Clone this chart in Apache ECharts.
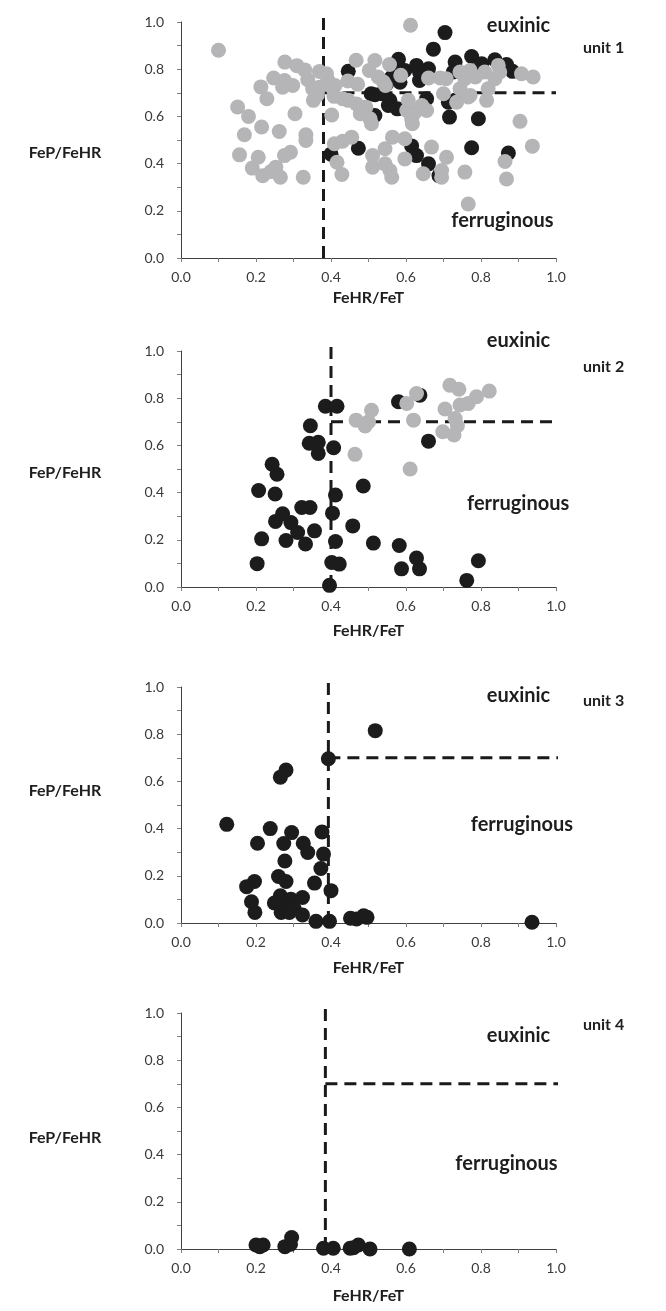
<!DOCTYPE html>
<html><head><meta charset="utf-8">
<script src="https://cdn.jsdelivr.net/npm/echarts@6/dist/echarts.min.js"></script>
<style>html,body{margin:0;padding:0;background:#fff}#c{width:666px;height:1311px}</style>
</head><body><div id="c"></div>
<script>
// ---------- DATA ----------
const unitNames = ['unit 1', 'unit 2', 'unit 3', 'unit 4'];
const xAxisTitle = 'FeHR/FeT';
const yAxisTitle = 'FeP/FeHR';
const zoneLabels = ['euxinic', 'ferruginous'];

const unit1Black = [
  [0.704,0.955],[0.673,0.885],[0.446,0.791],[0.507,0.696],[0.58,0.842],[0.573,0.802],[0.597,0.795],
  [0.562,0.767],[0.548,0.738],[0.584,0.745],[0.517,0.692],[0.535,0.696],[0.557,0.668],[0.553,0.646],
  [0.577,0.632],[0.517,0.604],[0.628,0.816],[0.636,0.788],[0.66,0.802],[0.636,0.752],[0.655,0.675],
  [0.713,0.66],[0.731,0.83],[0.726,0.788],[0.775,0.854],[0.802,0.823],[0.797,0.788],[0.837,0.84],
  [0.868,0.82],[0.884,0.791],[0.716,0.597],[0.793,0.59],[0.775,0.467],[0.873,0.445],[0.615,0.475],
  [0.628,0.434],[0.66,0.399],[0.688,0.349],[0.473,0.465],[0.40,0.44],[0.731,0.668],[0.571,0.788]
];
const unit1Gray = [
  [0.10,0.88],[0.151,0.64],[0.18,0.60],[0.169,0.522],[0.156,0.437],[0.215,0.555],[0.206,0.427],
  [0.19,0.381],[0.218,0.349],[0.24,0.366],[0.253,0.385],[0.265,0.342],[0.276,0.434],[0.292,0.448],
  [0.326,0.342],[0.262,0.536],[0.304,0.611],[0.333,0.522],[0.333,0.498],
  [0.213,0.725],[0.229,0.675],[0.247,0.763],[0.276,0.752],[0.271,0.724],[0.298,0.731],[0.277,0.83],
  [0.309,0.815],[0.33,0.797],[0.338,0.755],[0.351,0.717],[0.353,0.668],[0.364,0.692],[0.369,0.79],
  [0.369,0.724],[0.391,0.755],[0.388,0.781],[0.404,0.721],[0.408,0.685],[0.402,0.606],[0.409,0.484],
  [0.431,0.495],[0.455,0.512],[0.416,0.406],[0.429,0.354],[0.411,0.731],[0.445,0.75],[0.467,0.838],
  [0.471,0.736],[0.431,0.675],[0.446,0.668],[0.468,0.653],[0.478,0.611],[0.493,0.639],[0.504,0.59],
  [0.508,0.569],[0.502,0.795],[0.517,0.837],[0.526,0.767],[0.556,0.82],[0.586,0.774],[0.54,0.746],
  [0.545,0.731],[0.511,0.434],[0.511,0.385],[0.544,0.399],[0.557,0.371],[0.562,0.342],[0.544,0.463],
  [0.564,0.512],[0.597,0.505],[0.597,0.42],[0.612,0.986],[0.606,0.668],[0.602,0.625],[0.615,0.59],
  [0.617,0.569],[0.624,0.618],[0.642,0.646],[0.655,0.625],[0.646,0.357],[0.668,0.47],[0.66,0.763],
  [0.691,0.763],[0.707,0.76],[0.695,0.371],[0.695,0.342],[0.708,0.427],[0.7,0.696],[0.735,0.66],
  [0.744,0.788],[0.771,0.795],[0.757,0.76],[0.785,0.767],[0.744,0.717],[0.771,0.689],[0.766,0.682],
  [0.81,0.788],[0.819,0.717],[0.837,0.76],[0.815,0.668],[0.85,0.788],[0.846,0.816],[0.908,0.781],
  [0.939,0.767],[0.904,0.579],[0.937,0.474],[0.864,0.409],[0.868,0.335],[0.757,0.364],[0.766,0.229]
];
const unit2Black = [
  [0.203,0.099],[0.215,0.204],[0.207,0.409],[0.251,0.394],[0.243,0.52],[0.256,0.478],[0.252,0.278],
  [0.271,0.31],[0.293,0.273],[0.28,0.197],[0.311,0.231],[0.322,0.337],[0.344,0.337],[0.356,0.238],
  [0.332,0.182],[0.345,0.683],[0.342,0.609],[0.366,0.613],[0.366,0.566],[0.385,0.766],[0.416,0.766],
  [0.407,0.59],[0.412,0.39],[0.404,0.313],[0.412,0.193],[0.402,0.104],[0.422,0.097],[0.396,0.007],
  [0.458,0.259],[0.486,0.428],[0.513,0.186],[0.582,0.176],[0.628,0.123],[0.588,0.077],[0.636,0.077],
  [0.762,0.028],[0.793,0.111],[0.66,0.618],[0.58,0.785],[0.637,0.813]
];
const unit2Gray = [
  [0.467,0.707],[0.491,0.682],[0.5,0.70],[0.508,0.749],[0.464,0.562],[0.602,0.778],[0.628,0.82],
  [0.62,0.707],[0.611,0.5],[0.717,0.855],[0.741,0.838],[0.704,0.754],[0.744,0.771],[0.766,0.778],
  [0.788,0.806],[0.822,0.83],[0.731,0.714],[0.737,0.683],[0.698,0.658],[0.728,0.644]
];
const unit3Black = [
  [0.518,0.815],[0.393,0.696],[0.28,0.648],[0.265,0.618],[0.122,0.418],[0.238,0.40],[0.204,0.338],
  [0.295,0.383],[0.274,0.337],[0.376,0.386],[0.326,0.338],[0.338,0.299],[0.38,0.292],[0.277,0.263],
  [0.373,0.231],[0.26,0.197],[0.28,0.176],[0.356,0.169],[0.196,0.176],[0.175,0.154],[0.40,0.137],
  [0.188,0.09],[0.197,0.045],[0.265,0.115],[0.249,0.085],[0.293,0.101],[0.324,0.108],[0.276,0.07],
  [0.267,0.045],[0.289,0.045],[0.302,0.06],[0.324,0.034],[0.36,0.007],[0.396,0.007],[0.452,0.02],
  [0.468,0.017],[0.487,0.031],[0.496,0.024],[0.936,0.003]
];
const unit4Black = [
  [0.2,0.017],[0.219,0.017],[0.21,0.01],[0.277,0.01],[0.295,0.049],[0.292,0.02],[0.38,0.003],
  [0.406,0.003],[0.451,0.003],[0.473,0.017],[0.46,0.005],[0.504,0.0],[0.609,0.0]
];
const blackSets = [unit1Black, unit2Black, unit3Black, unit4Black];
const graySets = [unit1Gray, unit2Gray, [], []];

// threshold lines per unit (FeHR/FeT cut-off, FeP/FeHR cut-off)
const thresholdX = [0.38, 0.40, 0.393, 0.385];
const thresholdY = [0.7, 0.7, 0.7, 0.7];
const axisTicks = [0, 0.2, 0.4, 0.6, 0.8, 1.0];

// ---------- LAYOUT ----------
const FONT = 'Lato';
const TXT = '#1e1e1e';
const gridTops = [22, 351, 687, 1013];
const gridH = 236;
const lineTop = [1.03, 1.03, 1.03, 1.03];
const lineRight = [1.0, 1.02, 1.02, 1.02];
const euxinicAt = [[0.9,0.986],[0.9,1.045],[0.9,0.963],[0.9,0.905]];
const ferrAt = [[0.857,0.158],[0.899,0.355],[0.909,0.418],[0.868,0.364]];
const xNameGap = [32, 36, 37, 39];
const yTitleCenter = [155, 475, 793, 1140];
const unitCenter = [50, 369, 703, 1027];

const grids = [], xAxes = [], yAxes = [], series = [], titles = [];
const axisLabelStyle = {fontFamily: FONT, fontSize: 14, color: '#3a3a3a', formatter: v => v.toFixed(1)};
for (let i = 0; i < 4; i++) {
  grids.push({left: 181, width: 375, top: gridTops[i], height: gridH});
  xAxes.push({
    type: 'value', gridIndex: i, min: axisTicks[0], max: axisTicks[axisTicks.length - 1], interval: 0.2,
    axisLine: {onZero: false, lineStyle: {color: '#404040', width: 1}},
    axisTick: {show: true, length: 4, lineStyle: {color: '#808080'}},
    minorTick: {show: true, splitNumber: 2, length: 4, lineStyle: {color: '#808080'}},
    splitLine: {show: false},
    axisLabel: Object.assign({margin: 12}, axisLabelStyle),
    name: xAxisTitle, nameLocation: 'middle', nameGap: xNameGap[i],
    nameTextStyle: {fontFamily: FONT, fontSize: 16, fontWeight: 'bold', color: TXT}
  });
  yAxes.push({
    type: 'value', gridIndex: i, min: 0, max: 1, interval: 0.2,
    axisLine: {show: true, onZero: false, lineStyle: {color: '#404040', width: 1}},
    axisTick: {show: true, length: 4, lineStyle: {color: '#808080'}},
    minorTick: {show: true, splitNumber: 2, length: 4, lineStyle: {color: '#808080'}},
    splitLine: {show: false},
    axisLabel: Object.assign({margin: 17}, axisLabelStyle)
  });
  titles.push({text: yAxisTitle, left: 65, textAlign: 'center', top: yTitleCenter[i] - 10, padding: 0,
    textStyle: {fontFamily: FONT, fontSize: 16, fontWeight: 'bold', color: TXT}});
  titles.push({text: unitNames[i], left: 583, top: unitCenter[i] - 10, padding: 0,
    textStyle: {fontFamily: FONT, fontSize: 16, fontWeight: 'bold', color: TXT}});

  const dash = {color: '#1a1a1a', width: 3, type: [12, 7]};
  series.push({type: 'line', xAxisIndex: i, yAxisIndex: i, clip: false, symbol: 'none', silent: true,
    lineStyle: dash, data: [[thresholdX[i], 0], [thresholdX[i], lineTop[i]]], z: 1});
  series.push({type: 'line', xAxisIndex: i, yAxisIndex: i, clip: false, symbol: 'none', silent: true,
    lineStyle: dash, data: [[thresholdX[i], thresholdY[i]], [lineRight[i], thresholdY[i]]], z: 1});
  series.push({type: 'scatter', xAxisIndex: i, yAxisIndex: i, symbolSize: 15, z: 3,
    itemStyle: {color: '#1c1c1c', opacity: 1}, data: blackSets[i]});
  if (graySets[i].length) {
    series.push({type: 'scatter', xAxisIndex: i, yAxisIndex: i, symbolSize: 15, z: 4,
      itemStyle: {color: '#b5b5b7', opacity: 1}, data: graySets[i]});
  }
  series.push({type: 'scatter', xAxisIndex: i, yAxisIndex: i, symbolSize: 0, z: 5, silent: true, clip: false,
    itemStyle: {opacity: 1},
    data: [euxinicAt[i].concat([zoneLabels[0]]), ferrAt[i].concat([zoneLabels[1]])],
    label: {show: true, position: 'inside', formatter: p => p.data[2], opacity: 1,
      fontFamily: FONT, fontSize: 20, fontWeight: 'bold', color: TXT}});
}

const chart = echarts.init(document.getElementById('c'), null, {renderer: 'canvas'});
chart.setOption({
  animation: false, backgroundColor: '#fff',
  title: titles, grid: grids, xAxis: xAxes, yAxis: yAxes, series: series
});
</script></body></html>
